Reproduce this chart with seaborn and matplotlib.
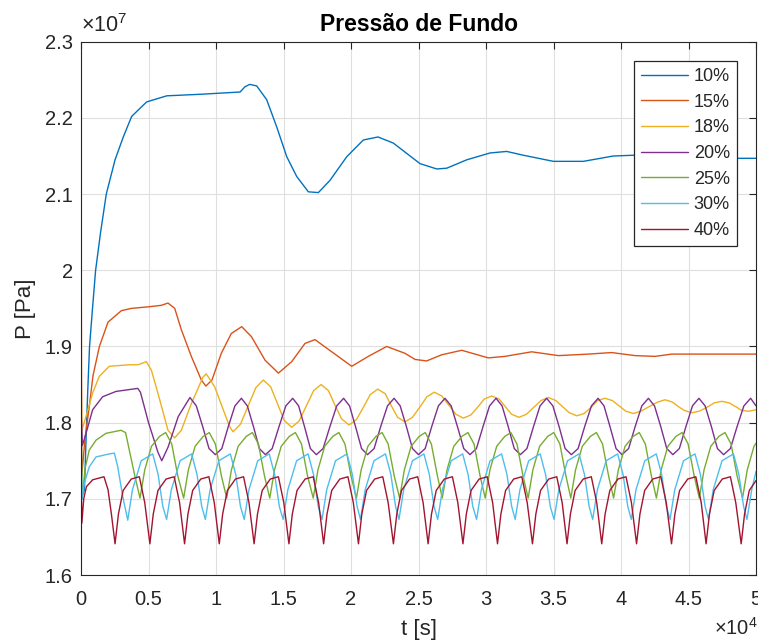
import numpy as np
import pandas as pd
import matplotlib
matplotlib.use("Agg")
import matplotlib.pyplot as plt
import seaborn as sns
from matplotlib.ticker import MultipleLocator, FuncFormatter

#----------------------------------
# Dados (t em 1e4 s, P em 1e7 Pa)
#----------------------------------
rotulos = ["10%", "15%", "18%", "20%", "25%", "30%", "40%"]
cores = ["#0072BD", "#D95319", "#EDB120", "#7E2F8E", "#77AC30", "#4DBEEE", "#A2142F"]

pts_10 = [
    (0.000, 1.700), (0.025, 1.712), (0.037, 1.777), (0.050, 1.843), (0.063, 1.900),
    (0.085, 1.950), (0.108, 2.000), (0.145, 2.050), (0.187, 2.100), (0.252, 2.145),
    (0.313, 2.175), (0.375, 2.202), (0.486, 2.221), (0.635, 2.229), (0.881, 2.231),
    (1.178, 2.234), (1.215, 2.241), (1.250, 2.244), (1.301, 2.242), (1.375, 2.224),
    (1.450, 2.188), (1.524, 2.149), (1.598, 2.123), (1.684, 2.103), (1.758, 2.102),
    (1.844, 2.118), (1.968, 2.149), (2.091, 2.171), (2.200, 2.175), (2.313, 2.167),
    (2.511, 2.140), (2.635, 2.133), (2.709, 2.134), (2.857, 2.145), (3.030, 2.154),
    (3.153, 2.156), (3.277, 2.151), (3.499, 2.143), (3.721, 2.143), (3.943, 2.150),
    (4.090, 2.151), (4.450, 2.148), (4.869, 2.147), (5.000, 2.147),
]

pts_15 = [
    (0.000, 2.150), (0.005, 1.730), (0.030, 1.780), (0.061, 1.821), (0.089, 1.862),
    (0.136, 1.900), (0.200, 1.932), (0.299, 1.947), (0.373, 1.950), (0.496, 1.952),
    (0.595, 1.954), (0.644, 1.957), (0.694, 1.950), (0.743, 1.922), (0.817, 1.887),
    (0.891, 1.856), (0.925, 1.848), (0.970, 1.856), (1.039, 1.891), (1.113, 1.917),
    (1.190, 1.926), (1.262, 1.913), (1.363, 1.882), (1.462, 1.865), (1.560, 1.880),
    (1.659, 1.904), (1.733, 1.909), (1.857, 1.893), (2.005, 1.874), (2.128, 1.887),
    (2.264, 1.900), (2.400, 1.891), (2.474, 1.883), (2.560, 1.881), (2.670, 1.889),
    (2.820, 1.895), (3.017, 1.885), (3.140, 1.887), (3.338, 1.893), (3.536, 1.888),
    (3.758, 1.890), (3.931, 1.892), (4.104, 1.888), (4.252, 1.887), (4.376, 1.890),
    (5.000, 1.890),
]

pts_18 = [
    (0.000, 1.892), (0.006, 1.790), (0.040, 1.810), (0.086, 1.839), (0.136, 1.861),
    (0.210, 1.874), (0.358, 1.876), (0.422, 1.876), (0.484, 1.880), (0.521, 1.869),
    (0.583, 1.830), (0.644, 1.790), (0.694, 1.780), (0.743, 1.790), (0.817, 1.825),
    (0.904, 1.860), (0.928, 1.864), (0.990, 1.847), (1.064, 1.812), (1.100, 1.795),
    (1.126, 1.788), (1.181, 1.798), (1.238, 1.822), (1.295, 1.846), (1.350, 1.856),
    (1.405, 1.847), (1.455, 1.825), (1.505, 1.803), (1.560, 1.794), (1.615, 1.802),
    (1.669, 1.822), (1.723, 1.842), (1.778, 1.850), (1.833, 1.842), (1.881, 1.823),
    (1.930, 1.805), (1.985, 1.797), (2.040, 1.804), (2.091, 1.820), (2.143, 1.837),
    (2.198, 1.844), (2.253, 1.838), (2.299, 1.822), (2.345, 1.807), (2.400, 1.801),
    (2.455, 1.807), (2.508, 1.820), (2.562, 1.834), (2.617, 1.840), (2.672, 1.835),
    (2.724, 1.823), (2.777, 1.811), (2.832, 1.806), (2.887, 1.810), (2.937, 1.820),
    (2.987, 1.831), (3.042, 1.835), (3.097, 1.831), (3.143, 1.821), (3.189, 1.811),
    (3.244, 1.807), (3.299, 1.811), (3.353, 1.820), (3.407, 1.829), (3.462, 1.833),
    (3.517, 1.829), (3.567, 1.821), (3.617, 1.813), (3.672, 1.809), (3.727, 1.812),
    (3.777, 1.820), (3.826, 1.829), (3.881, 1.832), (3.936, 1.829), (3.986, 1.822),
    (4.036, 1.815), (4.091, 1.812), (4.146, 1.815), (4.208, 1.821), (4.271, 1.827),
    (4.326, 1.830), (4.381, 1.827), (4.425, 1.821), (4.469, 1.816), (4.524, 1.813),
    (4.579, 1.815), (4.635, 1.820), (4.691, 1.826), (4.746, 1.828), (4.801, 1.826),
    (4.850, 1.821), (4.894, 1.816), (4.950, 1.815), (5.000, 1.817),
]

pts_20 = [
    (0.000, 1.818), (0.010, 1.770), (0.037, 1.786), (0.086, 1.817), (0.160, 1.834),
    (0.259, 1.841), (0.420, 1.845), (0.440, 1.840), (0.500, 1.800), (0.570, 1.761),
    (0.598, 1.750), (0.645, 1.768), (0.720, 1.808),
    (0.807, 1.833), (0.854, 1.822), (0.901, 1.795), (0.948, 1.766), (0.995, 1.758), (1.043, 1.766), (1.091, 1.795), (1.140, 1.822),
    (1.188, 1.832), (1.232, 1.822), (1.277, 1.795), (1.321, 1.766), (1.366, 1.758), (1.416, 1.766), (1.467, 1.795), (1.517, 1.822),
    (1.568, 1.832), (1.612, 1.822), (1.655, 1.795), (1.699, 1.766), (1.743, 1.758), (1.793, 1.766), (1.844, 1.795), (1.894, 1.822),
    (1.945, 1.832), (1.989, 1.822), (2.033, 1.795), (2.078, 1.766), (2.122, 1.758), (2.171, 1.766), (2.220, 1.795), (2.270, 1.822),
    (2.319, 1.832), (2.364, 1.822), (2.410, 1.795), (2.455, 1.766), (2.500, 1.758), (2.549, 1.766), (2.598, 1.795), (2.647, 1.822),
    (2.696, 1.832), (2.742, 1.822), (2.788, 1.795), (2.835, 1.766), (2.881, 1.758), (2.929, 1.766), (2.978, 1.795), (3.026, 1.822),
    (3.074, 1.832), (3.119, 1.822), (3.164, 1.795), (3.209, 1.766), (3.254, 1.758), (3.303, 1.766), (3.352, 1.795), (3.400, 1.822),
    (3.449, 1.832), (3.495, 1.822), (3.541, 1.795), (3.586, 1.766), (3.632, 1.758), (3.682, 1.766), (3.731, 1.795), (3.781, 1.822),
    (3.830, 1.832), (3.874, 1.822), (3.918, 1.795), (3.963, 1.766), (4.007, 1.758), (4.056, 1.766), (4.105, 1.795), (4.154, 1.822),
    (4.203, 1.832), (4.248, 1.822), (4.294, 1.795), (4.339, 1.766), (4.384, 1.758), (4.432, 1.766), (4.481, 1.795), (4.529, 1.822),
    (4.577, 1.832), (4.623, 1.822), (4.669, 1.795), (4.714, 1.766), (4.760, 1.758), (4.810, 1.766), (4.860, 1.795), (4.910, 1.822),
    (4.960, 1.832), (5.000, 1.822),
]

pts_25 = [
    (0.000, 1.815), (0.008, 1.700), (0.030, 1.740), (0.061, 1.764), (0.111, 1.777),
    (0.185, 1.786), (0.296, 1.790), (0.330, 1.787), (0.360, 1.762), (0.400, 1.729),
    (0.437, 1.701), (0.472, 1.738), (0.522, 1.769), (0.582, 1.782), (0.627, 1.787), (0.672, 1.772), (0.717, 1.730),
    (0.760, 1.701), (0.795, 1.738), (0.845, 1.769), (0.905, 1.782), (0.950, 1.787), (0.995, 1.772), (1.040, 1.730),
    (1.079, 1.701), (1.114, 1.738), (1.164, 1.769), (1.224, 1.782), (1.269, 1.787), (1.314, 1.772), (1.359, 1.730),
    (1.398, 1.701), (1.433, 1.738), (1.483, 1.769), (1.543, 1.782), (1.588, 1.787), (1.633, 1.772), (1.678, 1.730),
    (1.720, 1.701), (1.755, 1.738), (1.805, 1.769), (1.865, 1.782), (1.910, 1.787), (1.955, 1.772), (2.000, 1.730),
    (2.040, 1.701), (2.075, 1.738), (2.125, 1.769), (2.185, 1.782), (2.230, 1.787), (2.275, 1.772), (2.320, 1.730),
    (2.360, 1.701), (2.395, 1.738), (2.445, 1.769), (2.505, 1.782), (2.550, 1.787), (2.595, 1.772), (2.640, 1.730),
    (2.676, 1.701), (2.711, 1.738), (2.761, 1.769), (2.821, 1.782), (2.866, 1.787), (2.911, 1.772), (2.956, 1.730),
    (2.994, 1.701), (3.029, 1.738), (3.079, 1.769), (3.139, 1.782), (3.184, 1.787), (3.229, 1.772), (3.274, 1.730),
    (3.312, 1.701), (3.347, 1.738), (3.397, 1.769), (3.457, 1.782), (3.502, 1.787), (3.547, 1.772), (3.592, 1.730),
    (3.628, 1.701), (3.663, 1.738), (3.713, 1.769), (3.773, 1.782), (3.818, 1.787), (3.863, 1.772), (3.908, 1.730),
    (3.945, 1.701), (3.980, 1.738), (4.030, 1.769), (4.090, 1.782), (4.135, 1.787), (4.180, 1.772), (4.225, 1.730),
    (4.262, 1.701), (4.297, 1.738), (4.347, 1.769), (4.407, 1.782), (4.452, 1.787), (4.497, 1.772), (4.542, 1.730),
    (4.580, 1.701), (4.615, 1.738), (4.665, 1.769), (4.725, 1.782), (4.770, 1.787), (4.815, 1.772), (4.860, 1.730),
    (4.900, 1.701), (4.935, 1.738), (4.985, 1.769), (5.000, 1.773),
]

pts_30 = [
    (0.000, 1.765), (0.008, 1.700), (0.025, 1.721), (0.061, 1.742), (0.111, 1.755),
    (0.210, 1.759), (0.247, 1.760), (0.272, 1.742), (0.309, 1.703),
    (0.346, 1.672), (0.381, 1.712), (0.446, 1.750), (0.531, 1.759), (0.571, 1.732), (0.606, 1.690),
    (0.634, 1.673), (0.669, 1.712), (0.734, 1.750), (0.819, 1.759), (0.859, 1.732), (0.894, 1.690),
    (0.921, 1.673), (0.956, 1.712), (1.021, 1.750), (1.106, 1.759), (1.146, 1.732), (1.181, 1.690),
    (1.209, 1.673), (1.244, 1.712), (1.309, 1.750), (1.394, 1.759), (1.434, 1.732), (1.469, 1.690),
    (1.497, 1.673), (1.532, 1.712), (1.597, 1.750), (1.682, 1.759), (1.722, 1.732), (1.757, 1.690),
    (1.785, 1.673), (1.820, 1.712), (1.885, 1.750), (1.970, 1.759), (2.010, 1.732), (2.045, 1.690),
    (2.070, 1.673), (2.105, 1.712), (2.170, 1.750), (2.255, 1.759), (2.295, 1.732), (2.330, 1.690),
    (2.355, 1.673), (2.390, 1.712), (2.455, 1.750), (2.540, 1.759), (2.580, 1.732), (2.615, 1.690),
    (2.642, 1.673), (2.677, 1.712), (2.742, 1.750), (2.827, 1.759), (2.867, 1.732), (2.902, 1.690),
    (2.930, 1.673), (2.965, 1.712), (3.030, 1.750), (3.115, 1.759), (3.155, 1.732), (3.190, 1.690),
    (3.216, 1.673), (3.251, 1.712), (3.316, 1.750), (3.401, 1.759), (3.441, 1.732), (3.476, 1.690),
    (3.504, 1.673), (3.539, 1.712), (3.604, 1.750), (3.689, 1.759), (3.729, 1.732), (3.764, 1.690),
    (3.790, 1.673), (3.825, 1.712), (3.890, 1.750), (3.975, 1.759), (4.015, 1.732), (4.050, 1.690),
    (4.076, 1.673), (4.111, 1.712), (4.176, 1.750), (4.261, 1.759), (4.301, 1.732), (4.336, 1.690),
    (4.363, 1.673), (4.398, 1.712), (4.463, 1.750), (4.548, 1.759), (4.588, 1.732), (4.623, 1.690),
    (4.648, 1.673), (4.683, 1.712), (4.748, 1.750), (4.833, 1.759), (4.873, 1.732), (4.908, 1.690),
    (4.933, 1.673), (4.968, 1.712), (5.000, 1.736),
]

pts_40 = [
    (0.000, 1.734), (0.006, 1.668), (0.020, 1.700), (0.040, 1.716), (0.086, 1.725),
    (0.170, 1.729), (0.200, 1.712), (0.225, 1.680),
    (0.252, 1.641), (0.277, 1.680), (0.312, 1.711), (0.372, 1.726), (0.432, 1.729), (0.472, 1.695),
    (0.510, 1.641), (0.535, 1.680), (0.570, 1.711), (0.630, 1.726), (0.690, 1.729), (0.730, 1.695),
    (0.767, 1.641), (0.792, 1.680), (0.827, 1.711), (0.887, 1.726), (0.947, 1.729), (0.987, 1.695),
    (1.024, 1.641), (1.049, 1.680), (1.084, 1.711), (1.144, 1.726), (1.204, 1.729), (1.244, 1.695),
    (1.282, 1.641), (1.307, 1.680), (1.342, 1.711), (1.402, 1.726), (1.462, 1.729), (1.502, 1.695),
    (1.540, 1.641), (1.565, 1.680), (1.600, 1.711), (1.660, 1.726), (1.720, 1.729), (1.760, 1.695),
    (1.797, 1.641), (1.822, 1.680), (1.857, 1.711), (1.917, 1.726), (1.977, 1.729), (2.017, 1.695),
    (2.055, 1.641), (2.080, 1.680), (2.115, 1.711), (2.175, 1.726), (2.235, 1.729), (2.275, 1.695),
    (2.314, 1.641), (2.339, 1.680), (2.374, 1.711), (2.434, 1.726), (2.494, 1.729), (2.534, 1.695),
    (2.571, 1.641), (2.596, 1.680), (2.631, 1.711), (2.691, 1.726), (2.751, 1.729), (2.791, 1.695),
    (2.829, 1.641), (2.854, 1.680), (2.889, 1.711), (2.949, 1.726), (3.009, 1.729), (3.049, 1.695),
    (3.085, 1.641), (3.110, 1.680), (3.145, 1.711), (3.205, 1.726), (3.265, 1.729), (3.305, 1.695),
    (3.344, 1.641), (3.369, 1.680), (3.404, 1.711), (3.464, 1.726), (3.524, 1.729), (3.564, 1.695),
    (3.600, 1.641), (3.625, 1.680), (3.660, 1.711), (3.720, 1.726), (3.780, 1.729), (3.820, 1.695),
    (3.857, 1.641), (3.882, 1.680), (3.917, 1.711), (3.977, 1.726), (4.037, 1.729), (4.077, 1.695),
    (4.115, 1.641), (4.140, 1.680), (4.175, 1.711), (4.235, 1.726), (4.295, 1.729), (4.335, 1.695),
    (4.374, 1.641), (4.399, 1.680), (4.434, 1.711), (4.494, 1.726), (4.554, 1.729), (4.594, 1.695),
    (4.630, 1.641), (4.655, 1.680), (4.690, 1.711), (4.750, 1.726), (4.810, 1.729), (4.850, 1.695),
    (4.890, 1.641), (4.915, 1.680), (4.950, 1.711), (5.000, 1.724),
]

series = [pts_10, pts_15, pts_18, pts_20, pts_25, pts_30, pts_40]

#----------------------------------
# Tabela longa para o seaborn
#----------------------------------
linhas = []
for rot, pts in zip(rotulos, series):
    for t, p in pts:
        linhas.append({"t": t * 1e4, "P": p * 1e7, "caso": rot})
df = pd.DataFrame(linhas)

#----------------------------------
# Estilo
#----------------------------------
sns.set_theme(style="white")
plt.rcParams['font.family'] = ['Liberation Sans', 'DejaVu Sans']
plt.rcParams['mathtext.fontset'] = 'custom'
plt.rcParams['mathtext.rm'] = 'Liberation Sans'
cinza = "#262626"

fig = plt.figure(figsize=(7.58, 6.44), dpi=100)
ax = fig.add_axes([0.1069, 0.1071, 0.8905, 0.8281])

sns.lineplot(data=df, x="t", y="P", hue="caso", hue_order=rotulos,
             palette=cores, estimator=None, sort=False, linewidth=1.0, ax=ax)

ax.set_xlim(0, 5e4)
ax.set_ylim(1.6e7, 2.3e7)
ax.xaxis.set_major_locator(MultipleLocator(5000))
ax.yaxis.set_major_locator(MultipleLocator(1e6))
ax.xaxis.set_major_formatter(FuncFormatter(lambda v, pos: f"{v / 1e4:g}"))
ax.yaxis.set_major_formatter(FuncFormatter(lambda v, pos: f"{v / 1e7:g}"))

ax.grid(True, color="#dfdfdf", linewidth=0.8)
ax.set_axisbelow(True)
for s in ax.spines.values():
    s.set_visible(True)
    s.set_color(cinza)
    s.set_linewidth(0.8)

ax.tick_params(axis="both", which="major", direction="in", length=5, width=0.8,
               top=True, right=True, labelsize=14.5, color=cinza, labelcolor=cinza)
ax.tick_params(axis="x", pad=11)
ax.tick_params(axis="y", pad=6)

ax.set_title("Pressão de Fundo", fontsize=16.5, fontweight="bold", color="black", y=1.0, pad=8)
ax.set_xlabel("t [s]", fontsize=16, color=cinza, labelpad=7)
ax.set_ylabel("P [Pa]", fontsize=16, color=cinza, labelpad=6)

ax.text(0.0, 1.008, r"$\times\mathregular{10^{7}}$", transform=ax.transAxes,
        ha="left", va="bottom", fontsize=15.5, color=cinza)
ax.text(1.003, -0.079, r"$\times\mathregular{10^{4}}$", transform=ax.transAxes,
        ha="right", va="top", fontsize=14.5, color=cinza)

handles, labels = ax.get_legend_handles_labels()
leg = ax.legend(handles, labels, loc="upper right", bbox_to_anchor=(0.972, 0.964),
                borderaxespad=0, frameon=True, fancybox=False, framealpha=1,
                edgecolor=cinza, fontsize=13, handlelength=2.6,
                handletextpad=0.3, labelspacing=0.48, borderpad=0.4)
leg.get_frame().set_linewidth(0.9)
for txt in leg.get_texts():
    txt.set_color(cinza)

fig.savefig("out.png", dpi=100)
